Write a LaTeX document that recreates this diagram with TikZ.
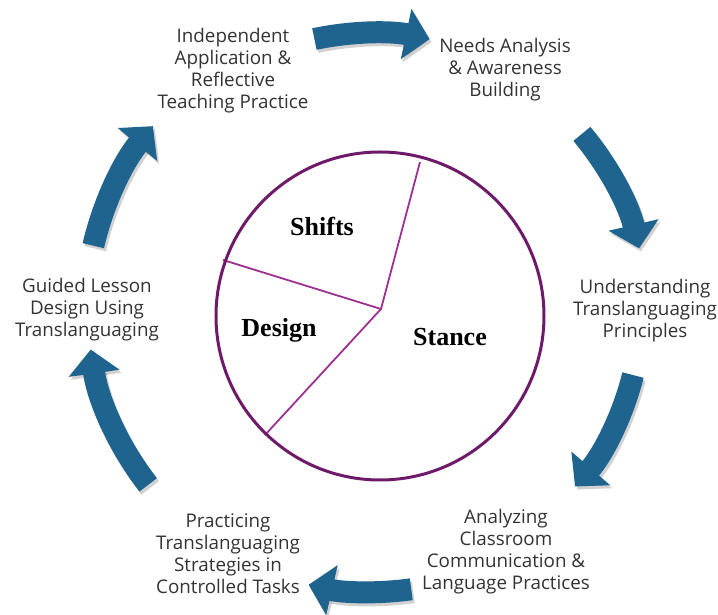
\documentclass[tikz,border=0pt]{standalone}
\usepackage{fontspec}
\setmainfont{Liberation Serif}
\newfontfamily\stepfont{Open Sans}
\usetikzlibrary{arrows.meta}

\definecolor{cycleblue}{RGB}{31,99,143}
\definecolor{rimpurple}{RGB}{110,26,104}
\definecolor{spokepurple}{RGB}{158,48,146}

\tikzset{
  steptext/.style={align=center, text=black!80,
    font=\stepfont\fontsize{18.8}{22}\selectfont},
  slicetext/.style={font=\bfseries\fontsize{26}{30}\selectfont},
  cyclearrow/.style={line width=22pt, color=cycleblue,
    -{Triangle[width=50pt,length=24pt]}},
  arrowshade/.style={cyclearrow, color=black, opacity=.18},
}

\begin{document}
\begin{tikzpicture}[x=1pt,y=1pt]
  \useasboundingbox (-372,-305) rectangle (346,310);

  % the six steps round the ring
  \node[steptext] (indep)   at (-139,239) {Independent\\Application \&\\Reflective\\Teaching Practice};
  \node[steptext] (needs)   at (133,240)  {Needs Analysis\\\& Awareness\\Building};
  \node[steptext] (underst) at (273,-1)   {Understanding\\Translanguaging\\Principles};
  \node[steptext] (analyz)  at (134,-242) {Analyzing\\Classroom\\Communication \&\\Language Practices};
  \node[steptext] (practic) at (-144,-244) {Practicing\\Translanguaging\\Strategies in\\Controlled Tasks};
  \node[steptext] (guided)  at (-285,0)   {Guided Lesson\\Design Using\\Translanguaging};

  % curved arrows: start angle / end angle / radius
  \foreach \a/\b/\r in {102/78/277, 40/13/274, -14/-41/269,
                        -82/-103/282, -142/-172/284, 167/140/286}{
    \draw[arrowshade, shift={(2,-3)}] (\a:\r) arc[start angle=\a, end angle=\b, radius=\r];
    \draw[cyclearrow] (\a:\r) arc[start angle=\a, end angle=\b, radius=\r];
  }

  % the pie in the middle
  \coordinate (hub) at (9,1);
  \coordinate (rimtop) at (48,148);
  \coordinate (rimleft) at (-149,50);
  \coordinate (rimlow) at (-107,-125);
  \draw[spokepurple, line width=1.8pt] (rimtop) -- (hub) -- (rimleft);
  \draw[spokepurple, line width=1.8pt] (hub) -- (rimlow);
  \draw[rimpurple, line width=3pt] (8,-6) circle (164);

  \node[slicetext] (shifts) at (-50,84)  {Shifts};
  \node[slicetext] (design) at (-93,-20) {Design};
  \node[slicetext] (stance) at (78,-27)  {Stance};
\end{tikzpicture}
\end{document}
